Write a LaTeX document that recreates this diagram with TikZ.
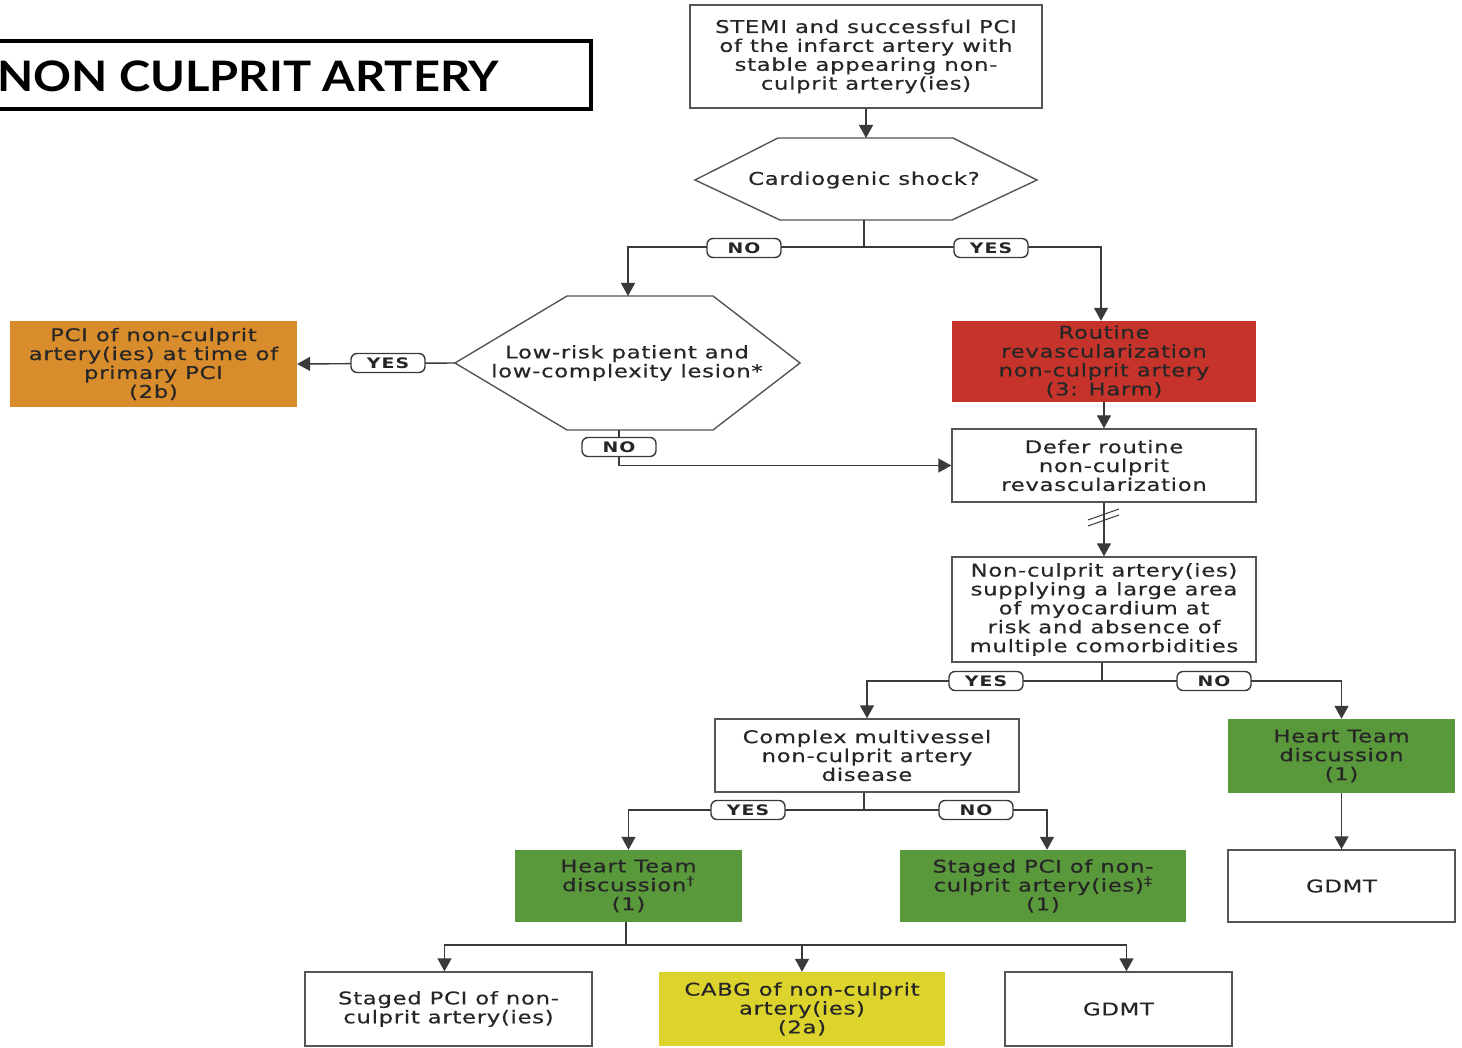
\documentclass[tikz,border=0pt]{standalone}
\usepackage{fontspec}
\setmainfont{DejaVu Sans}[FakeStretch=1.3, LetterSpace=4, FakeBold=0.5]
\newfontfamily\tagfont{DejaVu Sans}[FakeStretch=1.3, LetterSpace=8]
\newfontfamily\titlefont{Lato}[FakeStretch=1.12]
\usetikzlibrary{arrows.meta}
\definecolor{ink}{HTML}{262626}
\definecolor{frame}{HTML}{555555}
\definecolor{wire}{HTML}{3A3A3A}
\definecolor{orangefill}{HTML}{D98C2B}
\definecolor{redfill}{HTML}{C6332A}
\definecolor{greenfill}{HTML}{5A983C}
\definecolor{yellowfill}{HTML}{DCD42C}
\begin{document}
\begin{tikzpicture}[x=1pt,y=-1pt,
  every node/.style={font=\fontsize{17.5}{18.9}\selectfont, text=ink},
  box/.style={draw=frame, line width=1.4pt, align=center, inner sep=0pt},
  filled/.style={draw=none, align=center, inner sep=0pt, fill=#1},
  tag/.style={draw=wire, line width=1.4pt, rounded corners=6pt, fill=white,
    minimum width=74pt, minimum height=19pt, inner sep=0pt,
    font=\tagfont\bfseries\fontsize{14.5}{15}\selectfont},
  flow/.style={draw=wire, line width=1.4pt, -{Triangle[length=13pt,width=14pt]}},
  plain/.style={draw=wire, line width=1.4pt},
  hexa/.style={draw=frame, line width=1.4pt, fill=white}]

\useasboundingbox (0,0) rectangle (1462,1048);

% title banner, its left edge runs off the page
\begin{scope}
  \clip (0,0) rectangle (1462,1048);
  \draw[line width=4pt] (-12,41.5) rectangle (591,109);
  \node[anchor=west, inner sep=0pt, font=\titlefont\bfseries\fontsize{42}{46}\selectfont, text=black]
    (title) at (-3,76) {NON CULPRIT ARTERY};
\end{scope}

% ---- boxes ----
\node[box, minimum width=352pt, minimum height=103pt] (start) at (866,56.5)
  {STEMI and successful PCI\\of the infarct artery with\\stable appearing non-\\culprit artery(ies)};

% decision hexagons
\draw[hexa] (695,180) -- (778,138) -- (953,138) -- (1037,180) -- (952,220) -- (780,220) -- cycle;
\coordinate (shock-n) at (866,138);
\coordinate (shock-s) at (864,220);
\node (shock) at (864,180) {Cardiogenic shock?};

\draw[hexa] (455,363) -- (567,296) -- (713,296) -- (800,363) -- (713,430) -- (567,430) -- cycle;
\coordinate (risk-w) at (455,363);
\coordinate (risk-n) at (628,296);
\coordinate (risk-s) at (619,430);
\node[align=center] (risk) at (627,363) {Low-risk patient and\\low-complexity lesion*};

\node[filled=orangefill, minimum width=287pt, minimum height=86pt] (pci) at (153.5,364)
  {PCI of non-culprit\\artery(ies) at time of\\primary PCI\\(2b)};
\node[filled=redfill, minimum width=304pt, minimum height=81pt] (harm) at (1104,361.5)
  {Routine\\revascularization\\non-culprit artery\\(3: Harm)};
\node[box, minimum width=304pt, minimum height=73pt] (defer) at (1104,465.5)
  {Defer routine\\non-culprit\\revascularization};
\node[box, minimum width=304pt, minimum height=105pt] (large) at (1104,609.5)
  {Non-culprit artery(ies)\\supplying a large area\\of myocardium at\\risk and absence of\\multiple comorbidities};
\node[box, minimum width=304pt, minimum height=73pt] (complex) at (867,755.5)
  {Complex multivessel\\non-culprit artery\\disease};
\node[filled=greenfill, minimum width=227pt, minimum height=74pt] (htr) at (1341.5,756)
  {Heart Team\\discussion\\(1)};
\node[box, minimum width=227pt, minimum height=72pt] (gdmtr) at (1341.5,886) {GDMT};
\node[filled=greenfill, minimum width=227pt, minimum height=72pt] (htl) at (628.5,886)
  {Heart Team\\discussion\textsuperscript{†}\\(1)};
\node[filled=greenfill, minimum width=286pt, minimum height=72pt] (stagedg) at (1043,886)
  {Staged PCI of non-\\culprit artery(ies)\textsuperscript{‡}\\(1)};
\node[box, minimum width=287pt, minimum height=74pt] (stagedw) at (448.5,1009)
  {Staged PCI of non-\\culprit artery(ies)};
\node[filled=yellowfill, minimum width=286pt, minimum height=74pt] (cabg) at (802,1009)
  {CABG of non-culprit\\artery(ies)\\(2a)};
\node[box, minimum width=227pt, minimum height=74pt] (gdmtb) at (1118.5,1009) {GDMT};

% ---- junctions ----
\coordinate (j1) at (864,247);
\coordinate (j3) at (1102,681);
\coordinate (j4) at (864,810);
\coordinate (j5) at (626,945);

% ---- connectors ----
\draw[flow] (start.south) -- (shock-n);
\draw[plain] (shock-s) -- (j1);
\draw[flow] (j1) -| (risk-n);
\draw[flow] (j1) -| ([xshift=-3pt]harm.north);
\draw[flow] (risk-w) -- (pci.east);
\draw[flow] (risk-s) |- (defer.west);
\draw[flow] (harm.south) -- (defer.north);
\draw[flow] (defer.south) -- (large.north);
% break mark on the deferral line
\draw[plain, line width=1pt] (1088,520) -- (1119,509) (1088,526) -- (1119,515);
\draw[plain] (large.south -| j3) -- (j3);
\draw[flow] (j3) -| (complex.north);
\draw[flow] (j3) -| (htr.north);
\draw[flow] (htr.south) -- (gdmtr.north);
\draw[plain] (complex.south -| j4) -- (j4);
\draw[flow] (j4) -| (htl.north);
\draw[flow] (j4) -| ([xshift=4pt]stagedg.north);
\draw[plain] (htl.south -| j5) -- (j5);
\draw[flow] (j5) -| ([xshift=-4pt]stagedw.north);
\draw[flow] (j5) -| (cabg.north);
\draw[flow] (j5) -| ([xshift=8pt]gdmtb.north);

% ---- branch tags ----
\node[tag] (no1) at (744,248) {NO};
\node[tag] (yes1) at (991,248) {YES};
\node[tag] (yes2) at (388,363) {YES};
\node[tag] (no2) at (619,447) {NO};
\node[tag] (yes3) at (986,681) {YES};
\node[tag] (no3) at (1214,681) {NO};
\node[tag] (yes4) at (748,810) {YES};
\node[tag] (no4) at (976,810) {NO};
\end{tikzpicture}
\end{document}
